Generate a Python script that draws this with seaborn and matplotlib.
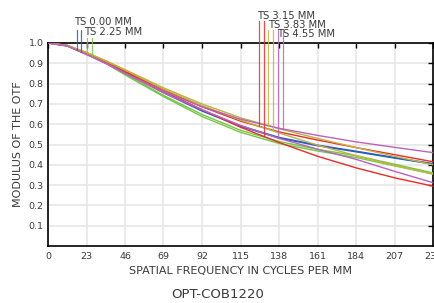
import seaborn as sns
import matplotlib.pyplot as plt
import numpy as np
import pandas as pd

# spatial frequency samples (cycles/mm)
freq = [0, 11.5, 23, 34.5, 46, 69, 92, 115, 138, 161, 184, 207, 230]

# MTF curves, two per field (T / S)
blue_t = [1.0, 0.987, 0.949, 0.906, 0.858, 0.758, 0.668, 0.592, 0.535, 0.497, 0.467, 0.436, 0.406]
blue_s = [1.0, 0.987, 0.948, 0.905, 0.856, 0.755, 0.665, 0.589, 0.532, 0.494, 0.464, 0.433, 0.403]
green_t = [1.0, 0.987, 0.947, 0.902, 0.847, 0.742, 0.648, 0.570, 0.515, 0.476, 0.445, 0.403, 0.360]
green_s = [1.0, 0.986, 0.946, 0.900, 0.843, 0.736, 0.638, 0.560, 0.505, 0.468, 0.436, 0.395, 0.354]
red_t = [1.0, 0.988, 0.951, 0.909, 0.863, 0.769, 0.686, 0.615, 0.562, 0.522, 0.485, 0.450, 0.415]
red_s = [1.0, 0.987, 0.950, 0.907, 0.860, 0.762, 0.672, 0.585, 0.510, 0.442, 0.385, 0.336, 0.295]
olive_t = [1.0, 0.988, 0.954, 0.913, 0.869, 0.779, 0.700, 0.632, 0.578, 0.530, 0.485, 0.442, 0.400]
olive_s = [1.0, 0.988, 0.953, 0.911, 0.866, 0.773, 0.692, 0.620, 0.557, 0.497, 0.445, 0.397, 0.355]
purple_t = [1.0, 0.985, 0.944, 0.901, 0.852, 0.762, 0.686, 0.625, 0.580, 0.545, 0.513, 0.486, 0.460]
purple_s = [1.0, 0.985, 0.943, 0.899, 0.850, 0.755, 0.671, 0.594, 0.530, 0.477, 0.427, 0.368, 0.312]

curves = {
    "0.00 T": blue_t, "0.00 S": blue_s,
    "2.25 T": green_t, "2.25 S": green_s,
    "3.15 T": red_t, "3.15 S": red_s,
    "3.83 T": olive_t, "3.83 S": olive_s,
    "4.55 T": purple_t, "4.55 S": purple_s,
}
field_colors = {"0.00": "#2a5cc4", "2.25": "#74c844", "3.15": "#ee2a2a",
                "3.83": "#bdb43c", "4.55": "#b864bc"}

# field marker lines (x position, bottom value, top value)
marker_x = [17.1, 20.0, 23.0, 26.0, 126.0, 129.0, 131.5, 134.5, 137.5, 140.5]
marker_bottom = [0.965, 0.957, 0.947, 0.935, 0.590, 0.540, 0.593, 0.567, 0.531, 0.576]
marker_top = [1.064, 1.064, 1.025, 1.025, 1.108, 1.108, 1.064, 1.064, 1.064, 1.064]
marker_field = ["0.00", "0.00", "2.25", "2.25", "3.15", "3.15", "3.83", "3.83", "4.55", "4.55"]

label_text = ["TS 0.00 MM", "TS 2.25 MM", "TS 3.15 MM", "TS 3.83 MM", "TS 4.55 MM"]
label_x = [15.5, 21.4, 124.8, 131.3, 136.7]
label_y = [1.103, 1.052, 1.133, 1.089, 1.044]

xticks = [0, 23, 46, 69, 92, 115, 138, 161, 184, 207, 230]
yticks = [0.1, 0.2, 0.3, 0.4, 0.5, 0.6, 0.7, 0.8, 0.9, 1.0]

rows = []
for name, vals in curves.items():
    for f, v in zip(freq, vals):
        rows.append({"freq": f, "mtf": v, "curve": name})
df = pd.DataFrame(rows)
palette = {name: field_colors[name.split()[0]] for name in curves}

sns.set_style("white")
plt.rcParams['font.family'] = ['DejaVu Sans']
text_color = "#3a3a3a"

fig = plt.figure(figsize=(4.35, 3.03), dpi=100)
ax = fig.add_axes([48 / 435, 1 - 246 / 303, 385 / 435, 203 / 303])

sns.lineplot(data=df, x="freq", y="mtf", hue="curve", palette=palette,
             legend=False, linewidth=1.0, ax=ax, zorder=3)

for x, y0, y1, fld in zip(marker_x, marker_bottom, marker_top, marker_field):
    ax.plot([x, x], [y0, y1], color=field_colors[fld], lw=0.9, alpha=0.85,
            clip_on=False, zorder=4)

for t, x, y in zip(label_text, label_x, label_y):
    ax.text(x, y, t, fontsize=7.2, color=text_color, va="center", ha="left",
            clip_on=False)

ax.set_xlim(0, 230)
ax.set_ylim(0, 1.0)
ax.set_xticks(xticks)
ax.set_yticks(yticks)
ax.set_yticklabels([f"{v:.1f}" for v in yticks])
ax.grid(True, color="#e6e6e6", lw=1.2, zorder=0)
ax.set_axisbelow(True)
ax.tick_params(direction="in", length=3.5, width=1.0, color="black",
               labelsize=6.8, labelcolor=text_color, top=True, right=True)
ax.tick_params(axis="x", pad=4)
ax.tick_params(axis="y", pad=3)
for s in ax.spines.values():
    s.set_color("black")
    s.set_linewidth(1.2)

ax.set_xlabel("SPATIAL FREQUENCY IN CYCLES PER MM", fontsize=8, color=text_color,
              labelpad=4)
ax.set_ylabel("MODULUS OF THE OTF", fontsize=8, color=text_color, labelpad=4)
fig.text(218 / 435, 1 - 294 / 303, "OPT-COB1220", fontsize=9.5, color=text_color,
         ha="center", va="center")

fig.savefig("out.png", dpi=100)
